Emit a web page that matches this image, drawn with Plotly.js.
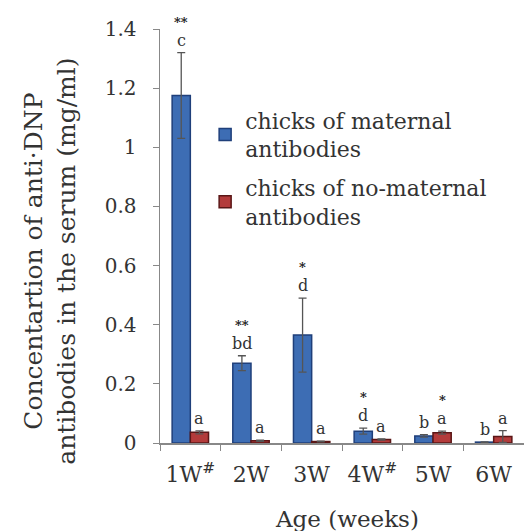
<!DOCTYPE html>
<html>
<head>
<meta charset="utf-8">
<script src="https://cdn.plot.ly/plotly-3.0.1.min.js"></script>
<style>html,body{margin:0;padding:0;background:#fff;}#chart{width:524px;height:531px;}</style>
</head>
<body>
<div id="chart"></div>
<script>
// ---- data ----
const categories = ["1W<sup>#</sup>", "2W", "3W", "4W<sup>#</sup>", "5W", "6W"];
const maternal = [1.175, 0.27, 0.365, 0.04, 0.024, 0.003];
const maternalErr = [0.145, 0.025, 0.125, 0.01, 0.004, 0.001];
const noMaternal = [0.036, 0.008, 0.005, 0.012, 0.035, 0.022];
const noMaternalErr = [0.005, 0.002, 0.001, 0.002, 0.005, 0.02];
const sigMaternal = ["**", "**", "*", "*", "", ""];
const letterMaternal = ["c", "bd", "d", "d", "b", "b"];
const sigNoMaternal = ["", "", "", "", "*", ""];
const letterNoMaternal = ["a", "a", "a", "a", "a", "a"];
const yTicks = [0, 0.2, 0.4, 0.6, 0.8, 1, 1.2, 1.4];
const yTickText = ["0", "0.2", "0.4", "0.6", "0.8", "1", "1.2", "1.4"];
const yTitle = "Concentartion of anti·DNP<br>antibodies in the serum (mg/ml)";
const xTitle = "Age (weeks)";

const FONT = "DejaVu Serif, Liberation Serif, serif";
const TXT = "#333333";

const traces = [
  {
    type: "bar", x: categories, y: maternal, name: "chicks of maternal<br>antibodies", legendgroup: "m",
    marker: {color: "#3d6db4", line: {color: "#1f3f7a", width: 1.5}},
    error_y: {type: "data", array: maternalErr, visible: true, color: "#555555", thickness: 1.3, width: 4}
  },
  {
    type: "bar", x: categories, y: noMaternal, name: "chicks of no-maternal<br>antibodies", legendgroup: "n",
    marker: {color: "#b33b3b", line: {color: "#5a1616", width: 1.5}},
    error_y: {type: "data", array: noMaternalErr, visible: true, color: "#555555", thickness: 1.3, width: 4}
  }
];

const OFF = 0.15;
const annotations = [];
function addLabels(vals, errs, sigs, letters, dx) {
  vals.forEach((v, i) => {
    const top = v + errs[i];
    annotations.push({x: i + dx, y: top, xref: "x", yref: "y", text: letters[i], showarrow: false,
      yanchor: "bottom", yshift: 1, font: {family: FONT, size: 16, color: TXT}});
    if (sigs[i]) {
      annotations.push({x: i + dx, y: top, xref: "x", yref: "y", text: "<b>" + sigs[i] + "</b>", showarrow: false,
        yanchor: "bottom", yshift: 21, font: {family: FONT, size: 13, color: "#222222"}});
    }
  });
}
addLabels(maternal, maternalErr, sigMaternal, letterMaternal, -OFF);
addLabels(noMaternal, noMaternalErr, sigNoMaternal, letterNoMaternal, OFF);

annotations.push({xref: "paper", yref: "paper", x: -0.302, y: 0.438, xanchor: "center", yanchor: "middle",
  text: yTitle, textangle: -90, showarrow: false, font: {family: FONT, size: 25, color: TXT}});
annotations.push({xref: "paper", yref: "paper", x: 0.514, y: -0.184, xanchor: "center", yanchor: "middle",
  text: xTitle, showarrow: false, font: {family: FONT, size: 23, color: TXT}});

const layout = {
  width: 524, height: 531,
  margin: {l: 160, r: 0, t: 29, b: 88},
  paper_bgcolor: "#ffffff", plot_bgcolor: "#ffffff",
  font: {family: FONT, color: TXT, size: 20},
  barmode: "group", bargap: 0.4, bargroupgap: 0,
  showlegend: true,
  legend: {x: 0.124, y: 0.83, xanchor: "left", yanchor: "top", bgcolor: "rgba(0,0,0,0)",
    font: {family: FONT, size: 22, color: TXT}, itemwidth: 30, tracegroupgap: 7},
  xaxis: {
    type: "category", range: [-0.5, 5.5], showline: true, linecolor: "#888888", linewidth: 1.5,
    ticks: "outside", tickson: "boundaries", ticklen: 6, tickcolor: "#888888",
    tickfont: {family: FONT, size: 22, color: TXT}, ticklabelstandoff: 11,
    showgrid: false, zeroline: false
  },
  yaxis: {
    range: [0, 1.4], tickvals: yTicks, ticktext: yTickText, showline: true, linecolor: "#888888", linewidth: 1.5,
    ticks: "outside", ticklen: 6, tickcolor: "#888888", showgrid: false, zeroline: false,
    tickfont: {family: FONT, size: 20, color: TXT}, ticklabelstandoff: 12
  },
  annotations: annotations
};

Plotly.newPlot("chart", traces, layout, {displayModeBar: false, staticPlot: true});
</script>
</body>
</html>
